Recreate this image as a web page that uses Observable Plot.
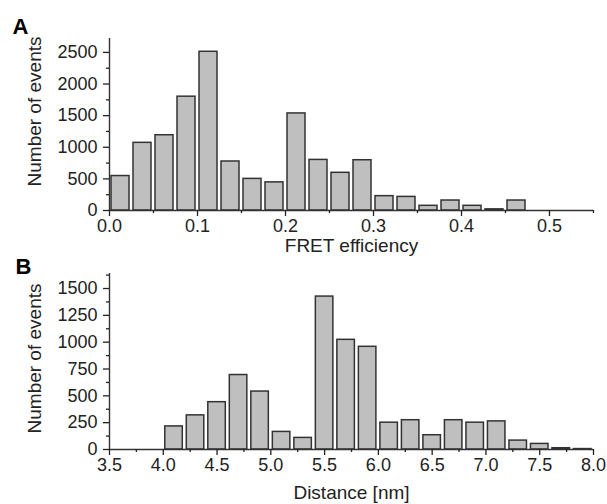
<!DOCTYPE html>
<html><head><meta charset="utf-8">
<script src="https://cdn.jsdelivr.net/npm/d3@7"></script>
<script src="https://cdn.jsdelivr.net/npm/@observablehq/plot@0.6"></script>
<style>
body{margin:0;background:#fff;}
#chart svg{display:block;overflow:visible;}
</style>
</head><body><div id="chart"></div>
<script>
// Panel A: FRET efficiency histogram
const fretBinStart = [0.000,0.025,0.050,0.075,0.100,0.125,0.150,0.175,0.200,0.225,0.250,0.275,0.300,0.325,0.350,0.375,0.400,0.425,0.450];
const fretBinWidth = 0.025;
const fretCounts = [545,1070,1190,1800,2510,775,500,445,1535,800,596,795,227,215,74,158,74,18,158];
const fretXTicks = [0,0.1,0.2,0.3,0.4,0.5];
const fretXMinor = [0.05,0.15,0.25,0.35,0.45,0.55];
const fretYTicks = [0,500,1000,1500,2000,2500];
const fretYMinor = [250,750,1250,1750,2250];

// Panel B: Distance histogram
const distBinStart = [4.0,4.2,4.4,4.6,4.8,5.0,5.2,5.4,5.6,5.8,6.0,6.2,6.4,6.6,6.8,7.0,7.2,7.4,7.6,7.8];
const distBinWidth = 0.2;
const distCounts = [215,318,441,694,540,164,108,1425,1022,957,250,273,133,273,250,262,83,52,12,4];
const distXTicks = [3.5,4.0,4.5,5.0,5.5,6.0,6.5,7.0,7.5,8.0];
const distXMinor = [3.75,4.25,4.75,5.25,5.75,6.25,6.75,7.25,7.75];
const distYTicks = [0,250,500,750,1000,1250,1500];
const distYMinor = [125,375,625,875,1125,1375,1625];

const font = "Liberation Sans, Arial, sans-serif";
const ink = "#222";

function panel({bins, width, counts, xDomain, yDomain, xTicks, xMinor, yTicks, yMinor,
                height, mTop, mBottom, xLabel, xLabelDy, yLabelDy, letter, letterDx, letterDy}) {
  const data = bins.map((b, i) => ({x1: b, x2: b + width, y: counts[i]}));
  return Plot.plot({
    width: 607, height,
    marginLeft: 109, marginRight: 14, marginTop: mTop, marginBottom: mBottom,
    style: {fontFamily: font, fontSize: "18px", color: ink, background: "#fff"},
    x: {domain: xDomain},
    y: {domain: yDomain},
    marks: [
      Plot.rectY(data, {x1: "x1", x2: "x2", y: "y", fill: "#bfbfbf", stroke: "#333", strokeWidth: 1.5, insetLeft: 2, insetRight: 2}),
      Plot.ruleX([xDomain[0]], {stroke: "#333", strokeWidth: 1.4}),
      Plot.ruleY([0], {stroke: "#333", strokeWidth: 1.4}),
      Plot.axisX({ticks: xTicks, tickSize: 6, tickPadding: 3, tickFormat: d3.format(".1f"), label: null, strokeWidth: 1.3}),
      Plot.axisX({ticks: xMinor, tickSize: 3, text: null, label: null, strokeWidth: 1.3}),
      Plot.axisY({ticks: yTicks, tickSize: 6, tickPadding: 6, tickFormat: d => String(d), label: null, strokeWidth: 1.3}),
      Plot.axisY({ticks: yMinor, tickSize: 3, text: null, label: null, strokeWidth: 1.3}),
      Plot.text([xLabel], {frameAnchor: "bottom", dy: xLabelDy, fontSize: 19, fill: ink, textAnchor: "middle", lineAnchor: "middle"}),
      Plot.text(["Number of events"], {frameAnchor: "left", dx: -75, dy: yLabelDy, rotate: -90, fontSize: 19, fill: ink, textAnchor: "middle", lineAnchor: "middle"}),
      Plot.text([letter], {frameAnchor: "top-left", dx: letterDx, dy: letterDy, fontSize: 22, fontWeight: "bold", fill: "#000", textAnchor: "start", lineAnchor: "bottom"})
    ]
  });
}

const chart = document.getElementById("chart");
chart.append(panel({
  bins: fretBinStart, width: fretBinWidth, counts: fretCounts,
  xDomain: [0, 0.55], yDomain: [0, 2720],
  xTicks: fretXTicks, xMinor: fretXMinor, yTicks: fretYTicks, yMinor: fretYMinor,
  height: 258, mTop: 38, mBottom: 48,
  xLabel: "FRET efficiency", xLabelDy: 35, yLabelDy: -13, letter: "A", letterDx: -97, letterDy: -5
}));
chart.append(panel({
  bins: distBinStart, width: distBinWidth, counts: distCounts,
  xDomain: [3.5, 8.0], yDomain: [0, 1640],
  xTicks: distXTicks, xMinor: distXMinor, yTicks: distYTicks, yMinor: distYMinor,
  height: 246, mTop: 15, mBottom: 55,
  xLabel: "Distance [nm]", xLabelDy: 43, yLabelDy: -3, letter: "B", letterDx: -94, letterDy: 0
}));
</script>
</body></html>
